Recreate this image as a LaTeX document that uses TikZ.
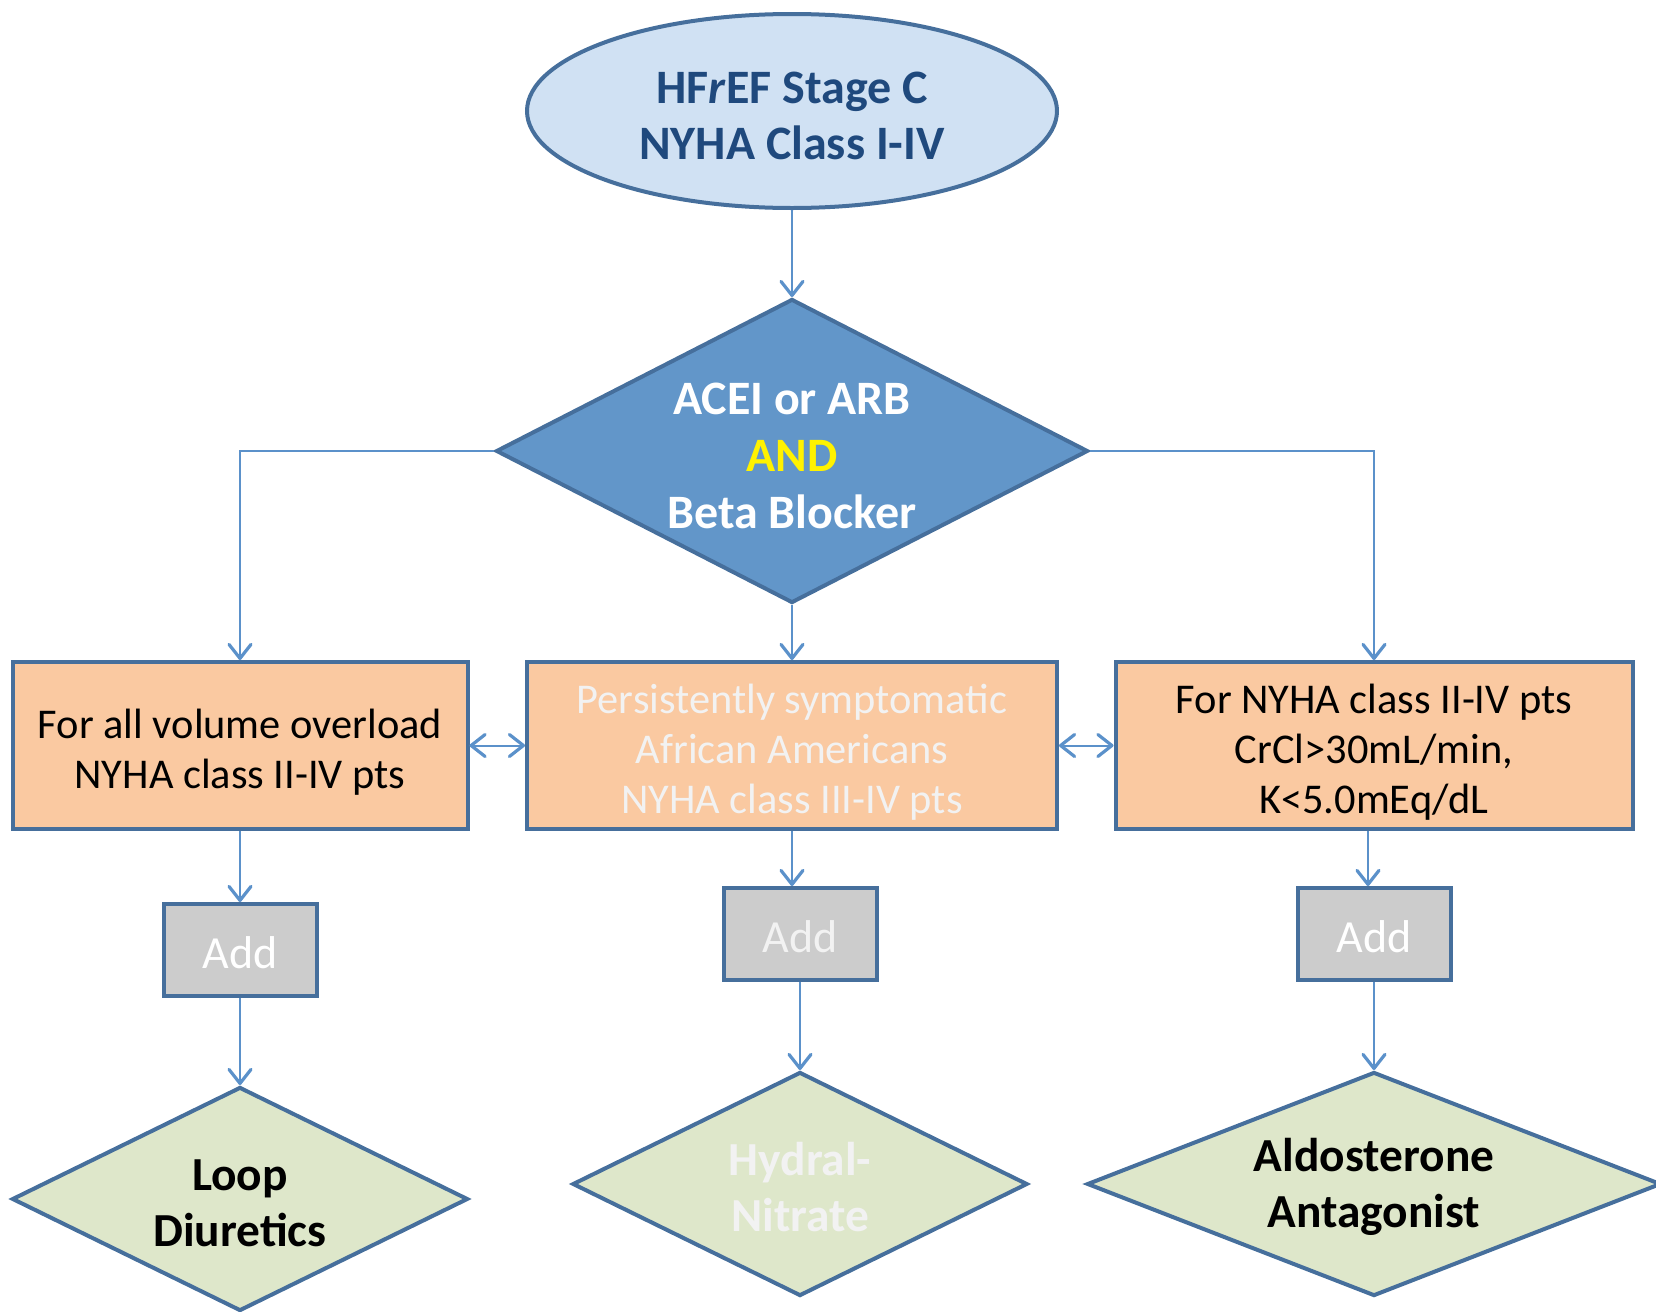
\documentclass[tikz,border=0pt]{standalone}
\usepackage{fontspec}
\setmainfont{Carlito}
\usepackage{tikz}
\usetikzlibrary{shapes.geometric, arrows.meta, positioning, calc}
\definecolor{edgeblue}{RGB}{70,111,156}
\definecolor{linkblue}{RGB}{91,145,202}
\definecolor{titlefill}{RGB}{208,225,243}
\definecolor{titletext}{RGB}{31,73,125}
\definecolor{decfill}{RGB}{98,150,201}
\definecolor{boxfill}{RGB}{250,201,161}
\definecolor{addfill}{RGB}{204,204,204}
\definecolor{drugfill}{RGB}{222,231,202}
\definecolor{paletext}{RGB}{242,242,242}

\begin{document}
\begin{tikzpicture}[x=0.5pt, y=-0.5pt,
	textdrop/.style={execute at begin node={\rule{0pt}{#1}}},
	outline/.style={draw=edgeblue, line width=2pt, inner sep=0pt, align=center},
	critbox/.style={outline, rectangle, fill=boxfill, minimum height=83.5pt, font=\fontsize{21.2}{25}\selectfont},
	addbox/.style={outline, rectangle, fill=addfill, text=white, minimum width=76.5pt, minimum height=46pt, font=\fontsize{23}{27}\selectfont, textdrop=0.83em},
	drug/.style={outline, diamond, fill=drugfill, minimum height=112pt, font=\fontsize{23.7}{28}\selectfont\bfseries, textdrop=\dimexpr\baselineskip+0.83em\relax},
	link/.style={draw=linkblue, line width=1pt, -{Straight Barb[length=7pt, width=11pt, line width=1.6pt, round]}},
	twoway/.style={link, {Straight Barb[length=7pt, width=11pt, line width=1.6pt, round]}-{Straight Barb[length=7pt, width=11pt, line width=1.6pt, round]}}]
	\useasboundingbox (0,0) rectangle (1656,1312);
	% Stage
	\node[outline, ellipse, fill=titlefill, text=titletext, minimum width=265pt, minimum height=97pt, font=\fontsize{24}{28}\selectfont\bfseries, textdrop=\dimexpr\baselineskip+0.87em\relax] (stage) at (792,111) {HF\textit{r}EF Stage C\\NYHA Class I-IV};
	% Core therapy
	\node[outline, diamond, aspect=1.95, fill=decfill, text=white, minimum width=296pt, minimum height=152pt, font=\fontsize{24}{28.5}\selectfont\bfseries, textdrop=\dimexpr2\baselineskip+0.88em\relax] (core) at (792,451) {ACEI or ARB\\\textcolor{yellow}{AND}\\Beta Blocker};
	% Criteria
	\node[critbox, minimum width=227.5pt, textdrop=\dimexpr\baselineskip+1em\relax] (volbox) at (240,745.5) {For all volume overload\\NYHA class II-IV pts};
	\node[critbox, minimum width=265pt, text=paletext, textdrop=\dimexpr2\baselineskip+1em\relax] (aabox) at (792,745.5) {Persistently symptomatic\\African Americans\\NYHA class III-IV pts};
	\node[critbox, minimum width=258.5pt, textdrop=\dimexpr2\baselineskip+1em\relax] (crbox) at (1374,745.5) {For NYHA class II-IV pts\\CrCl>30mL/min,\\K<5.0mEq/dL};
	% Add
	\node[addbox] (voladd) at (240,950) {Add};
	\node[addbox, text=paletext] (aaadd) at (800,934) {Add};
	\node[addbox] (cradd) at (1374,934) {Add};
	% Drugs
	\node[drug, aspect=2, minimum width=228pt] (loop) at (240,1199) {Loop\\Diuretics};
	\node[drug, aspect=2, minimum width=227.5pt, text=paletext] (hydral) at (800,1184) {Hydral-\\Nitrate};
	\node[drug, aspect=2.56, minimum width=287pt] (aldo) at (1374,1184) {Aldosterone\\Antagonist};
	% Connectors
	\draw[link] (stage.south) -- (core.north);
	\draw[link] (core.west) -| (volbox.north);
	\draw[link] (core.east) -| (crbox.north);
	\draw[link] (core.south) -- (aabox.north);
	\draw[twoway] (volbox.east) -- (aabox.west);
	\draw[twoway] (aabox.east) -- (crbox.west);
	\draw[link] (volbox.south) -- (voladd.north);
	\draw[link] (aabox.south) -- (aabox.south |- aaadd.north);
	\draw[link] ([xshift=-3pt]crbox.south) -- ([xshift=-3pt]crbox.south |- cradd.north);
	\draw[link] (voladd.south) -- (loop.north);
	\draw[link] (aaadd.south) -- (hydral.north);
	\draw[link] (cradd.south) -- (aldo.north);
\end{tikzpicture}
\end{document}
